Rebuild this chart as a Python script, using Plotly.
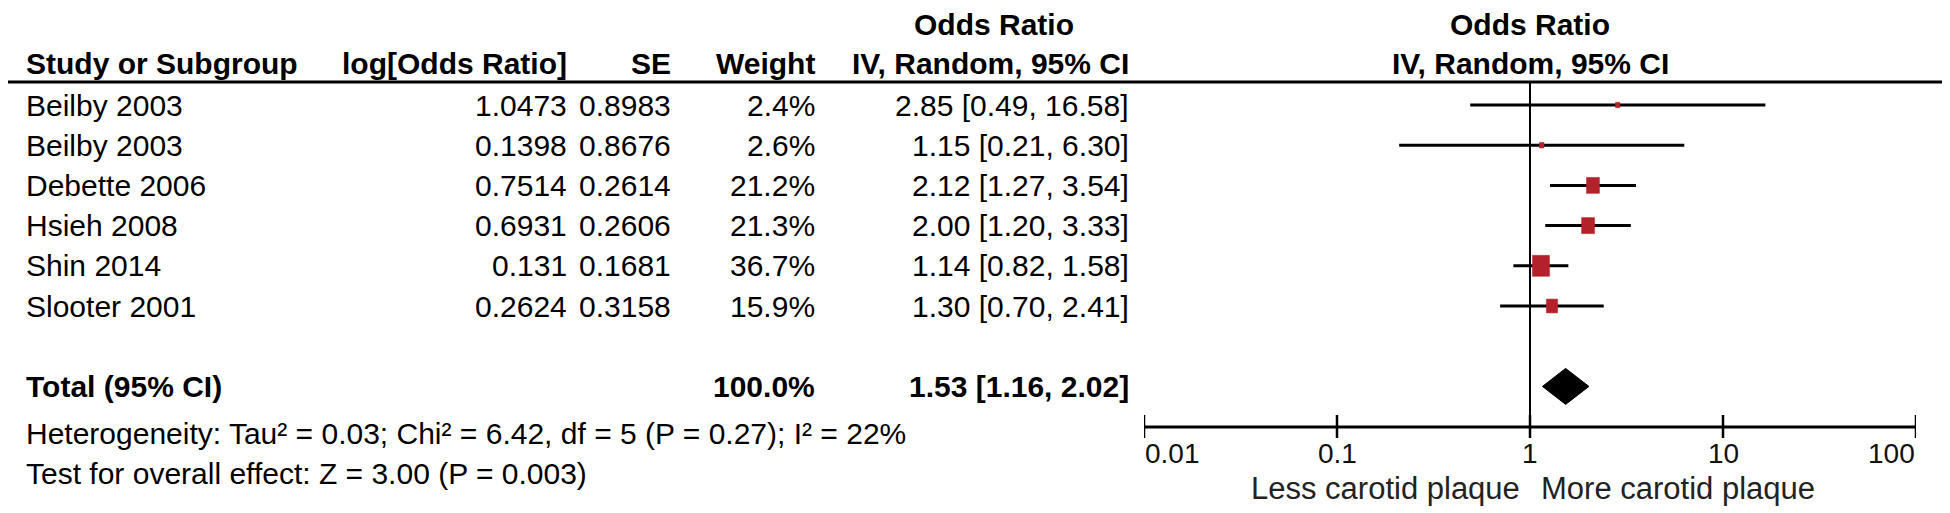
import math
import plotly.graph_objects as go

# ---------------- data ----------------
studies = ["Beilby 2003", "Beilby 2003", "Debette 2006", "Hsieh 2008", "Shin 2014", "Slooter 2001"]
log_or = [1.0473, 0.1398, 0.7514, 0.6931, 0.131, 0.2624]
se = [0.8983, 0.8676, 0.2614, 0.2606, 0.1681, 0.3158]
weight = [2.4, 2.6, 21.2, 21.3, 36.7, 15.9]
or_est = [2.85, 1.15, 2.12, 2.00, 1.14, 1.30]
ci_lo = [0.49, 0.21, 1.27, 1.20, 0.82, 0.70]
ci_hi = [16.58, 6.30, 3.54, 3.33, 1.58, 2.41]

total_label = "Total (95% CI)"
total_weight = 100.0
total_est = 1.53
total_lo = 1.16
total_hi = 2.02

heterogeneity = "Heterogeneity: Tau² = 0.03; Chi² = 6.42, df = 5 (P = 0.27); I² = 22%"
overall = "Test for overall effect: Z = 3.00 (P = 0.003)"

axis_ticks = [0.01, 0.1, 1, 10, 100]
axis_tick_labels = ["0.01", "0.1", "1", "10", "100"]
left_label = "Less carotid plaque"
right_label = "More carotid plaque"

# ---------------- layout helpers ----------------
W, H = 1950, 513
OFF = 8                      # page body margin of the html page
ROW0, ROWH = 105.0, 40.2     # page pixel of first row, pixel spacing
X_LO_PX, X_HI_PX = 1144, 1916   # page pixels of the axis ends
DECADE_PX = (X_HI_PX - X_LO_PX) / (math.log10(axis_ticks[-1]) - math.log10(axis_ticks[0]))


def yi(p):
    """page pixel y -> row-index coordinate"""
    return (p - ROW0) / ROWH


def px(x):
    """page pixel x -> paper x"""
    return (x - OFF) / W


FONT = "Liberation Sans, Arial, sans-serif"
TXT = "#000000"
RED = "#B3212B"
REG = 30
BOLD = 30

fig = go.Figure()

rows = list(range(len(studies)))
total_row = len(studies) + 1

# CI lines
for i in rows:
    fig.add_trace(go.Scatter(x=[ci_lo[i], ci_hi[i]], y=[i, i], mode="lines",
                             line=dict(color="#000000", width=3),
                             hoverinfo="skip", showlegend=False))

# weight boxes (slightly taller than wide, as in the source image)
max_w = max(weight)
for i in rows:
    s = math.sqrt(weight[i] / max_w)
    hw = 8.5 * s / DECADE_PX          # half width in log10 units
    hh = 10.5 * s / ROWH              # half height in row units
    lc = math.log10(or_est[i])
    xa, xb = 10 ** (lc - hw), 10 ** (lc + hw)
    fig.add_trace(go.Scatter(x=[xa, xb, xb, xa, xa],
                             y=[i - hh, i - hh, i + hh, i + hh, i - hh],
                             mode="lines", fill="toself", fillcolor=RED,
                             line=dict(color=RED, width=0.5),
                             hoverinfo="skip", showlegend=False))

# diamond for pooled estimate
dh = 18 / ROWH
fig.add_trace(go.Scatter(x=[total_lo, total_est, total_hi, total_est, total_lo],
                         y=[total_row, total_row - dh, total_row, total_row + dh, total_row],
                         mode="lines", fill="toself", fillcolor="#000000",
                         line=dict(color="#000000", width=1),
                         showlegend=False, hoverinfo="skip"))

shapes = []
# header rule (full width)
shapes.append(dict(type="line", xref="paper", yref="y", x0=0, x1=1,
                   y0=yi(82), y1=yi(82), line=dict(color="#000000", width=3)))
# line of no effect
shapes.append(dict(type="line", xref="x", yref="y", x0=1, x1=1,
                   y0=yi(82), y1=yi(427), line=dict(color="#000000", width=2)))
# axis line
shapes.append(dict(type="line", xref="x", yref="y", x0=axis_ticks[0], x1=axis_ticks[-1],
                   y0=yi(427), y1=yi(427), line=dict(color="#000000", width=3)))
# ticks
for t in axis_ticks:
    shapes.append(dict(type="line", xref="x", yref="y", x0=t, x1=t,
                       y0=yi(415), y1=yi(438), line=dict(color="#000000", width=2.5)))

ann = []


def text(x, y, s, anchor="left", bold=False, xref="paper", size=None, xshift=0, color=TXT):
    ann.append(dict(x=x, y=y, xref=xref, yref="y", text=("<b>%s</b>" % s) if bold else s,
                    showarrow=False, xanchor=anchor, yanchor="middle", xshift=xshift,
                    borderpad=0,
                    font=dict(family=FONT, size=size or (BOLD if bold else REG), color=color)))


X_NAME = px(25)
X_LOG = px(568)
X_SE = px(672)
X_WT = px(816)
X_CI = px(1130)
X_CIH = px(994)

# headers
text(X_CIH, yi(24), "Odds Ratio", "center", True)
text(X_NAME, yi(63), "Study or Subgroup", "left", True)
text(X_LOG, yi(63), "log[Odds Ratio]", "right", True)
text(X_SE, yi(63), "SE", "right", True)
text(X_WT, yi(63), "Weight", "right", True)
text(X_CI, yi(63), "IV, Random, 95% CI", "right", True)
text(0, yi(24), "Odds Ratio", "center", True, xref="x")
text(0, yi(63), "IV, Random, 95% CI", "center", True, xref="x")

# rows
for i in rows:
    text(X_NAME, i, studies[i])
    text(X_LOG, i, str(log_or[i]), "right")
    text(X_SE, i, str(se[i]), "right")
    text(X_WT, i, "%.1f%%" % weight[i], "right")
    text(X_CI, i, "%.2f [%.2f, %.2f]" % (or_est[i], ci_lo[i], ci_hi[i]), "right")

# total
text(X_NAME, total_row, total_label, "left", True)
text(X_WT, total_row, "%.1f%%" % total_weight, "right", True)
text(X_CI, total_row, "%.2f [%.2f, %.2f]" % (total_est, total_lo, total_hi), "right", True)

text(X_NAME, yi(433), heterogeneity)
text(X_NAME, yi(473), overall)

# axis tick labels (annotation x on a log axis is given in log10 units)
for k, (t, lab) in enumerate(zip(axis_ticks, axis_tick_labels)):
    anchor = "left" if k == 0 else ("right" if k == len(axis_ticks) - 1 else "center")
    text(math.log10(t), yi(453), lab, anchor, xref="x", size=28, color="#111111")

text(0, yi(488), left_label, "right", xref="x", size=31, xshift=-9, color="#222222")
text(0, yi(488), right_label, "left", xref="x", size=31, xshift=10, color="#222222")

fig.update_layout(
    width=W, height=H,
    margin=dict(l=0, r=0, t=0, b=0),
    paper_bgcolor="white", plot_bgcolor="white",
    shapes=shapes, annotations=ann, showlegend=False,
    xaxis=dict(type="log", range=[math.log10(axis_ticks[0]), math.log10(axis_ticks[-1])],
               domain=[px(X_LO_PX), px(X_HI_PX)], showgrid=False, zeroline=False,
               showticklabels=False, showline=False, ticks=""),
    yaxis=dict(range=[yi(H + OFF), yi(OFF)], domain=[0, 1], showgrid=False, zeroline=False,
               showticklabels=False, showline=False, ticks=""),
)

fig.write_html("out.html")
